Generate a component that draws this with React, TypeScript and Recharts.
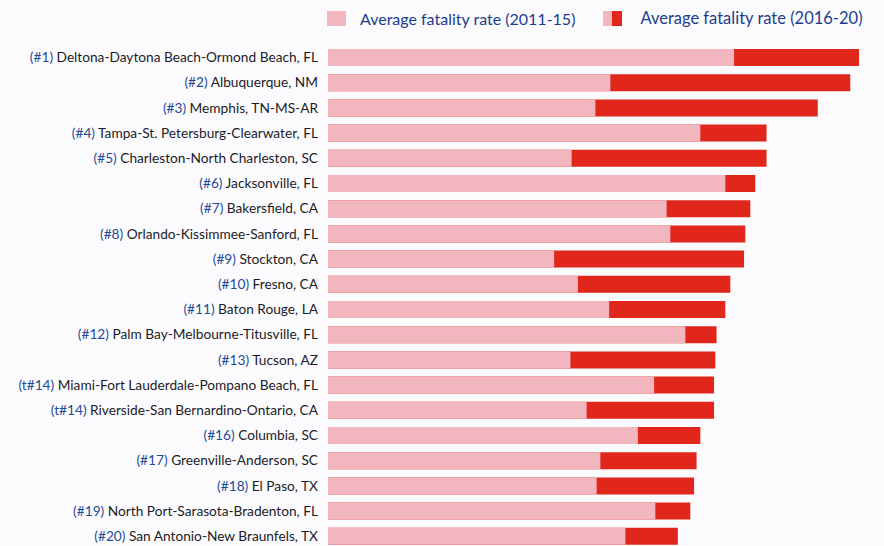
import { Bar, BarChart, XAxis, YAxis } from "recharts";

const ranks = [
  "(#1)", "(#2)", "(#3)", "(#4)", "(#5)", "(#6)", "(#7)", "(#8)", "(#9)", "(#10)",
  "(#11)", "(#12)", "(#13)", "(t#14)", "(t#14)", "(#16)", "(#17)", "(#18)", "(#19)", "(#20)",
];

const metros = [
  "Deltona-Daytona Beach-Ormond Beach, FL",
  "Albuquerque, NM",
  "Memphis, TN-MS-AR",
  "Tampa-St. Petersburg-Clearwater, FL",
  "Charleston-North Charleston, SC",
  "Jacksonville, FL",
  "Bakersfield, CA",
  "Orlando-Kissimmee-Sanford, FL",
  "Stockton, CA",
  "Fresno, CA",
  "Baton Rouge, LA",
  "Palm Bay-Melbourne-Titusville, FL",
  "Tucson, AZ",
  "Miami-Fort Lauderdale-Pompano Beach, FL",
  "Riverside-San Bernardino-Ontario, CA",
  "Columbia, SC",
  "Greenville-Anderson, SC",
  "El Paso, TX",
  "North Port-Sarasota-Bradenton, FL",
  "San Antonio-New Braunfels, TX",
];

const rate2011_15 = [
  3.25, 2.26, 2.14, 2.98, 1.95, 3.18, 2.71, 2.74, 1.81, 2.0,
  2.25, 2.86, 1.94, 2.61, 2.07, 2.48, 2.18, 2.15, 2.62, 2.38,
];

const rate2016_20 = [
  4.25, 4.18, 3.92, 3.51, 3.51, 3.42, 3.38, 3.34, 3.33, 3.22,
  3.18, 3.11, 3.1, 3.09, 3.09, 2.98, 2.95, 2.93, 2.9, 2.8,
];

const PINK = "#f2b6bf";
const RED = "#e1261c";
const BLUE = "#1f4a96";
const FONT = "Lato, 'Open Sans', sans-serif";

const data = metros.map((m, i) => ({
  key: String(i),
  rank: ranks[i],
  name: m,
  early: rate2011_15[i],
  late: rate2016_20[i],
}));

function MetroTick(props: any) {
  const { x, y, payload } = props;
  const row = data[Number(payload.value)];
  return (
    <text
      x={x - 10}
      y={y}
      dy={4.5}
      textAnchor="end"
      fontSize={13.7}
      fontFamily={FONT}
      fill="#1c1c28"
    >
      <tspan fill={BLUE}>{row.rank}</tspan>
      <tspan> {row.name}</tspan>
    </text>
  );
}

function LegendBox() {
  const txt = { color: "#1d3d8c", fontSize: 16, fontFamily: FONT };
  return (
    <div
      style={{
        position: "absolute",
        top: 8,
        left: 327,
        display: "flex",
        alignItems: "center",
        height: 20,
        whiteSpace: "nowrap",
      }}
    >
      <span style={{ width: 19, height: 15, background: PINK, display: "inline-block" }} />
      <span style={{ ...txt, marginLeft: 14 }}>Average fatality rate (2011-15)</span>
      <span style={{ width: 9, height: 15, background: PINK, display: "inline-block", marginLeft: 28 }} />
      <span style={{ width: 10, height: 15, background: RED, display: "inline-block" }} />
      <span style={{ ...txt, marginLeft: 18, fontSize: 16.5 }}>Average fatality rate (2016-20)</span>
    </div>
  );
}

export default function App() {
  return (
    <div style={{ position: "absolute", left: 0, top: 0, width: 884, height: 560, background: "#fbfbfd" }}>
      <BarChart
        width={884}
        height={560}
        data={data}
        layout="vertical"
        margin={{ top: 45, right: 10, left: 0, bottom: 11 }}
        barSize={17}
        barGap={-17}
      >
        <XAxis type="number" domain={[0, 4.37]} hide />
        <YAxis
          type="category"
          dataKey="key"
          width={328}
          axisLine={false}
          tickLine={false}
          tickSize={0}
          tickMargin={0}
          interval={0}
          tick={<MetroTick />}
        />
        <Bar dataKey="late" fill={RED} isAnimationActive={false} />
        <Bar dataKey="early" fill={PINK} isAnimationActive={false} />
      </BarChart>
      <LegendBox />
    </div>
  );
}
